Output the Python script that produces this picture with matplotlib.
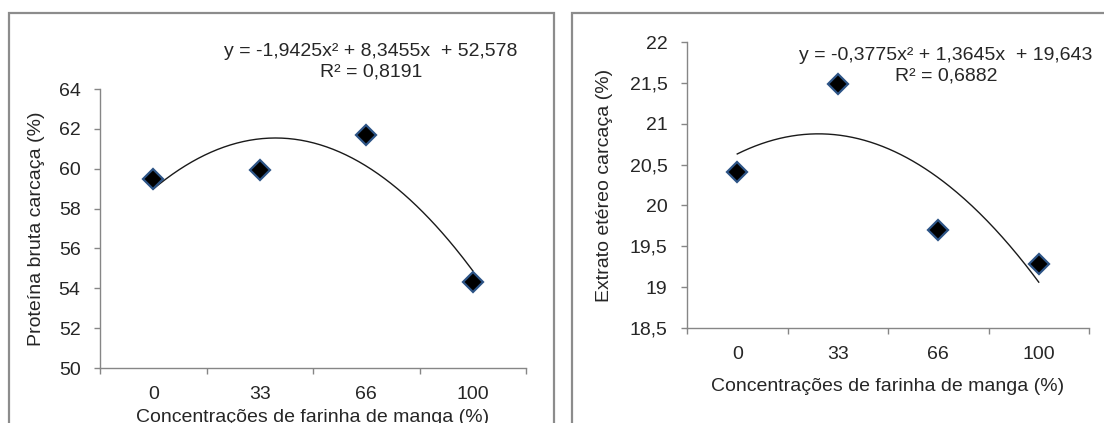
import numpy as np
import matplotlib
matplotlib.use("Agg")
from matplotlib import pyplot as plt
from matplotlib.patches import Rectangle
from matplotlib.ticker import FixedLocator, FuncFormatter

categories = ["0", "33", "66", "100"]
proteina = [59.49, 59.95, 61.71, 54.34]
extrato = [20.41, 21.49, 19.70, 19.28]
coef_pb = [-1.9425, 8.3455, 52.578]
coef_ee = [-0.3775, 1.3645, 19.643]
eq_pb = "y = -1,9425x² + 8,3455x  + 52,578\nR² = 0,8191"
eq_ee = "y = -0,3775x² + 1,3645x  + 19,643\nR² = 0,6882"
xlabel = "Concentrações de farinha de manga (%)"

plt.rcParams["font.family"] = ["Liberation Sans", "DejaVu Sans"]
plt.rcParams["font.size"] = 14
TXT = "#262626"
AX = "#868686"
FRAME = "#8c8c8c"


def comma(v, pos=None):
    return "{:g}".format(v).replace(".", ",")


def draw_panel(ax, values, coefs, eq, ylabel, ylim, ystep, ylab_x, xlab_y, eq_xy):
    pos = np.arange(len(categories))
    xs = np.linspace(1, len(categories), 200)
    ax.plot(xs - 1, np.polyval(coefs, xs), color="#1a1a1a", lw=1.0, zorder=2)
    ax.plot(pos, values, linestyle="none", marker="D", markersize=10.5,
            markerfacecolor="black", markeredgecolor="#2d5486",
            markeredgewidth=1.6, zorder=3)

    ax.set_xlim(-0.5, len(categories) - 0.5)
    ax.set_ylim(*ylim)
    ax.set_yticks(np.arange(ylim[0], ylim[1] + ystep / 2, ystep))
    ax.yaxis.set_major_formatter(FuncFormatter(comma))

    # category boundaries carry the tick marks, labels sit in the middle
    ax.xaxis.set_major_locator(FixedLocator(np.arange(-0.5, len(categories), 1.0)))
    ax.xaxis.set_major_formatter(FuncFormatter(lambda v, p: ""))
    ax.xaxis.set_minor_locator(FixedLocator(pos))
    ax.set_xticklabels(categories, minor=True)
    ax.tick_params(axis="x", which="major", direction="out", length=4.5,
                   width=1, color=AX)
    ax.tick_params(axis="x", which="minor", length=0, pad=13, labelcolor=TXT)
    ax.tick_params(axis="y", direction="out", length=4, width=1, color=AX,
                   pad=10, labelcolor=TXT)

    for s in ["top", "right"]:
        ax.spines[s].set_visible(False)
    for s in ["left", "bottom"]:
        ax.spines[s].set_color(AX)
        ax.spines[s].set_linewidth(1)

    ax.set_ylabel(ylabel, color=TXT)
    ax.yaxis.set_label_coords(ylab_x, 0.5)
    ax.yaxis.label.set_va("center")
    ax.set_xlabel(xlabel, color=TXT)
    ax.xaxis.set_label_coords(0.5, xlab_y)
    ax.xaxis.label.set_va("center")

    ax.text(eq_xy[0], eq_xy[1], eq, transform=ax.transAxes, ha="center",
            va="center", multialignment="center", linespacing=1.25,
            color=TXT, clip_on=False)


fig = plt.figure(figsize=(11.04, 4.23), dpi=100)
W, H = 1104.0, 423.0

fig.add_artist(Rectangle((9 / W, -0.1), (554 - 9) / W, 1.1 - 13 / H,
                         transform=fig.transFigure, fill=False,
                         edgecolor=FRAME, linewidth=1.6))
fig.add_artist(Rectangle((572 / W, -0.1), 0.6, 1.1 - 13 / H,
                         transform=fig.transFigure, fill=False,
                         edgecolor=FRAME, linewidth=1.6))

ax1 = fig.add_axes([100 / W, 1 - 368 / H, 426 / W, 279 / H])
ax2 = fig.add_axes([687 / W, 1 - 328 / H, 402 / W, 286 / H])

draw_panel(ax1, proteina, coef_pb, eq_pb, "Proteína bruta carcaça (%)",
           (50, 64), 2, -0.148, -0.176, (0.636, 1.097))
draw_panel(ax2, extrato, coef_ee, eq_ee, "Extrato etéreo carcaça (%)",
           (18.5, 22), 0.5, -0.204, -0.206, (0.644, 0.916))

fig.savefig("out.png", dpi=100)
